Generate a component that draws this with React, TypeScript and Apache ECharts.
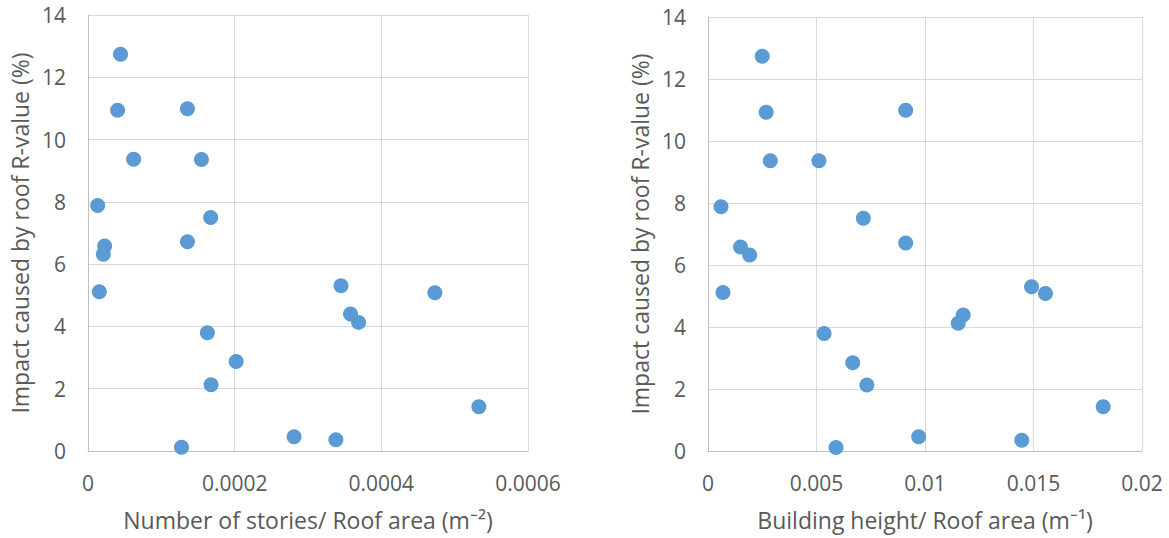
import React, { useEffect, useRef } from "react";
import * as echarts from "echarts";

// Left chart: Number of stories / Roof area (m^-2) vs impact (%)
const storiesPerArea = [
  4.44e-5, 4.04e-5, 1.356e-4, 6.22e-5, 1.547e-4, 1.32e-5, 1.673e-4, 2.27e-5, 2.09e-5, 1.356e-4,
  1.54e-5, 1.628e-4, 2.02e-4, 1.678e-4, 1.275e-4, 2.81e-4, 3.45e-4, 3.58e-4, 3.69e-4, 4.73e-4,
  3.38e-4, 5.33e-4,
];
const impactLeft = [
  12.74, 10.94, 10.99, 9.37, 9.36, 7.88, 7.5, 6.58, 6.32, 6.72,
  5.11, 3.8, 2.87, 2.13, 0.12, 0.46, 5.31, 4.4, 4.13, 5.08,
  0.36, 1.42,
];

// Right chart: Building height / Roof area (m^-1) vs impact (%)
const heightPerArea = [
  0.0025, 0.00268, 0.00287, 0.00511, 0.0006, 0.00716, 0.0015, 0.00192, 0.00911, 0.00911,
  0.00069, 0.00535, 0.00667, 0.00732, 0.0059, 0.01491, 0.01555, 0.01176, 0.01153, 0.00971,
  0.01446, 0.01821,
];
const impactRight = [
  12.73, 10.93, 9.36, 9.36, 7.88, 7.51, 6.58, 6.32, 10.99, 6.71,
  5.11, 3.79, 2.85, 2.13, 0.11, 5.3, 5.08, 4.39, 4.12, 0.46,
  0.35, 1.43,
];

const yTicks = { min: 0, max: 14, interval: 2 };
const leftXTicks = { min: 0, max: 0.0006, interval: 0.0002 };
const rightXTicks = { min: 0, max: 0.02, interval: 0.005 };

const xTitleLeft = "Number of stories/ Roof area (m\u207B\u00B2)";
const xTitleRight = "Building height/ Roof area (m\u207B\u00B9)";
const yTitle = "Impact caused by roof R-value (%)";

const FONT = "Open Sans";
const TEXT = "#595959";
const GRID = "#d9d9d9";
const DOT = "#5b9bd5";

export default function App() {
  const ref = useRef<HTMLDivElement>(null);
  useEffect(() => {
    if (!ref.current) return;
    const chart = echarts.init(ref.current, null, { renderer: "svg" });
    const axisLabel = { color: TEXT, fontFamily: FONT, fontSize: 21 };
    const nameStyle = { color: TEXT, fontFamily: FONT, fontSize: 23 };
    const makeX = (idx: number, t: any, name: string, fmt: (v: number) => string) => ({
      type: "value",
      gridIndex: idx,
      min: t.min,
      max: t.max,
      interval: t.interval,
      name,
      nameLocation: "middle",
      nameGap: 57,
      nameTextStyle: nameStyle,
      axisLine: { show: true, lineStyle: { color: "#bfbfbf", width: 1 } },
      axisTick: { show: false },
      splitLine: { show: true, lineStyle: { color: GRID, width: 1 } },
      axisLabel: { ...axisLabel, margin: 21, formatter: fmt },
    });
    const makeY = (idx: number) => ({
      type: "value",
      gridIndex: idx,
      min: yTicks.min,
      max: yTicks.max,
      interval: yTicks.interval,
      name: yTitle,
      nameLocation: "middle",
      nameGap: 57,
      nameTextStyle: nameStyle,
      axisLine: { show: true, lineStyle: { color: "#bfbfbf", width: 1 } },
      axisTick: { show: false },
      splitLine: { show: true, lineStyle: { color: GRID, width: 1 } },
      axisLabel: { ...axisLabel, margin: 22 },
    });
    chart.setOption({
      animation: false,
      backgroundColor: "#ffffff",
      grid: [
        { left: 88, right: 1169 - 528, top: 15, bottom: 538 - 451 },
        { left: 708, right: 1169 - 1142, top: 17, bottom: 538 - 451 },
      ],
      xAxis: [
        makeX(0, leftXTicks, xTitleLeft, (v: number) => (v === 0 ? "0" : v.toFixed(4))),
        makeX(1, rightXTicks, xTitleRight, (v: number) => (v === 0 ? "0" : String(+v.toFixed(3)))),
      ],
      yAxis: [makeY(0), makeY(1)],
      series: [
        {
          type: "scatter",
          xAxisIndex: 0,
          yAxisIndex: 0,
          symbolSize: 15,
          itemStyle: { color: DOT, opacity: 1 },
          data: storiesPerArea.map((x, i) => [x, impactLeft[i]]),
        },
        {
          type: "scatter",
          xAxisIndex: 1,
          yAxisIndex: 1,
          symbolSize: 15,
          itemStyle: { color: DOT, opacity: 1 },
          data: heightPerArea.map((x, i) => [x, impactRight[i]]),
        },
      ],
    });
    return () => chart.dispose();
  }, []);
  return (
    <div
      ref={ref}
      style={{ position: "fixed", left: 0, top: 0, width: 1169, height: 538, background: "#fff" }}
    />
  );
}
